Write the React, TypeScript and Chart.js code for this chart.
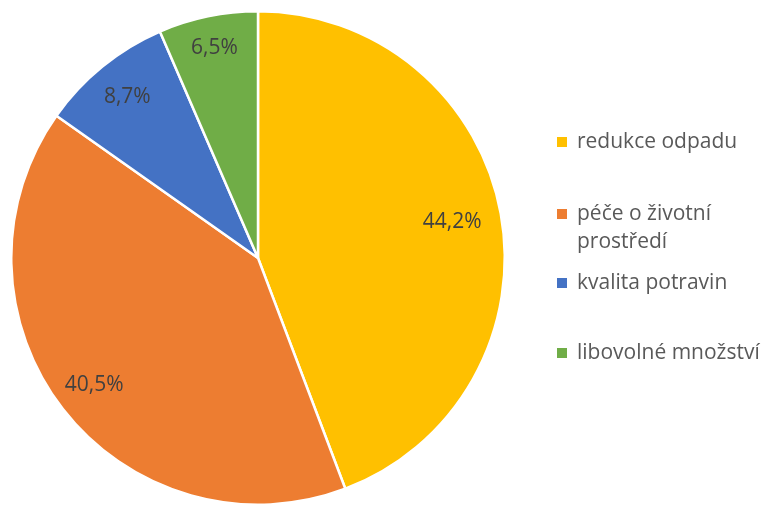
import React, { useEffect, useRef } from "react";
import { Chart, registerables } from "chart.js";

Chart.register(...registerables);

const categories: string[][] = [
  ["redukce odpadu"],
  ["péče o životní", "prostředí"],
  ["kvalita potravin"],
  ["libovolné množství"],
];
const values = [44.2, 40.5, 8.7, 6.5];
const valueLabels = ["44,2%", "40,5%", "8,7%", "6,5%"];
const colors = ["#FFC000", "#ED7D31", "#4472C4", "#70AD47"];
const legendRowsY = [142, 214, 283, 353];

const FONT = '"Open Sans", sans-serif';

const labelPlugin = {
  id: "sliceLabels",
  afterDatasetsDraw(chart: any) {
    const ctx = chart.ctx;
    const meta = chart.getDatasetMeta(0);
    ctx.save();
    ctx.font = `21px ${FONT}`;
    ctx.fillStyle = "#404040";
    ctx.textAlign = "center";
    ctx.textBaseline = "middle";
    const factors = [0.8, 0.84, 0.84, 0.87];
    meta.data.forEach((arc: any, i: number) => {
      const { x, y, startAngle, endAngle, outerRadius } = arc.getProps(
        ["x", "y", "startAngle", "endAngle", "outerRadius"],
        true
      );
      const mid = (startAngle + endAngle) / 2;
      const r = outerRadius * factors[i];
      ctx.fillText(valueLabels[i], x + Math.cos(mid) * r, y + Math.sin(mid) * r);
    });
    // legend
    ctx.textAlign = "left";
    ctx.font = `21px ${FONT}`;
    categories.forEach((lines, i) => {
      const y0 = legendRowsY[i];
      ctx.fillStyle = colors[i];
      ctx.fillRect(557, y0 - 5, 10, 10);
      ctx.fillStyle = "#595959";
      lines.forEach((t, j) => {
        ctx.fillText(t, 577, y0 + j * 28);
      });
    });
    ctx.restore();
  },
};

export default function App() {
  const ref = useRef<HTMLCanvasElement | null>(null);
  useEffect(() => {
    document.body.style.margin = "0";
    const chart = new Chart(ref.current as HTMLCanvasElement, {
      type: "pie",
      data: {
        labels: categories.map((c) => c.join(" ")),
        datasets: [
          {
            data: values,
            backgroundColor: colors,
            borderColor: "#ffffff",
            borderWidth: 2.5,
          },
        ],
      },
      options: {
        animation: false,
        responsive: false,
        maintainAspectRatio: false,
        layout: { padding: { left: 10, top: 10, bottom: 0, right: 261 } },
        plugins: {
          legend: { display: false },
          tooltip: { enabled: false },
        },
      },
      plugins: [labelPlugin],
    });
    return () => chart.destroy();
  }, []);
  return (
    <div style={{ width: 767, height: 506, background: "#fff" }}>
      <canvas ref={ref} width={767} height={506} style={{ width: 767, height: 506 }} />
    </div>
  );
}
